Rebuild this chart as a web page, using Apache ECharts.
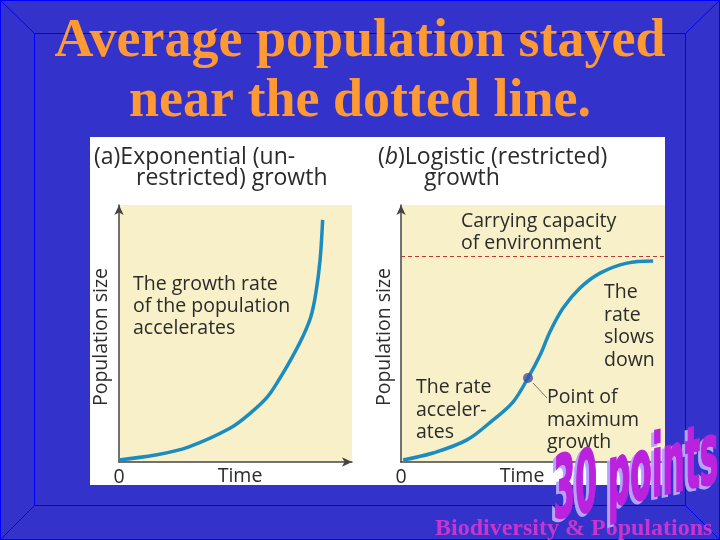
<!DOCTYPE html>
<html>
<head>
<meta charset="utf-8">
<script src="https://cdn.jsdelivr.net/npm/echarts@6/dist/echarts.min.js"></script>
<style>
    html, body { margin: 0; padding: 0; background: #3333cc; }
    #chart { width: 720px; height: 540px; }
</style>
</head>
<body>
<div id="chart"></div>
<script>
// (a) exponential growth
const timeA = [0, 15.5, 29.7, 47.8, 56.5, 63.7, 69.4, 74.4, 78.8, 82.3, 84.5, 86.3, 87.4];
const popA = [0.8, 2.7, 5.8, 13.2, 19.1, 25.3, 33.1, 40.9, 48.6, 56.4, 65.8, 78.6, 94.2];
// (b) logistic growth
const timeB = [0.8, 12.1, 25, 34.8, 42.4, 48.1, 52.7, 56.4, 61.4, 67.8, 75.4, 85.6, 95.5];
const popB = [0.8, 3.5, 8.6, 16.3, 23.3, 32.7, 41.6, 50.6, 59.9, 67.7, 73.5, 77.4, 78.2];
const carryingCapacity = [80.2];
const maxGrowthPoint = [48.1, 32.7];

const SANS = '"Open Sans", "Noto Sans", sans-serif';
const SERIF = '"Liberation Serif", "DejaVu Serif", serif';
const HEAVY = '"DejaVu Sans Condensed", "DejaVu Sans", sans-serif';
const INK = '#2b2b2b';
const CURVE = '#1a8cc0';
const BODY = 19.5;
const HEAD = 23;

function pairs(xs, ys) {
    return xs.map((x, i) => [x, ys[i]]);
}

// plain text helper, y = vertical centre
function txt(text, x, y, size, extra) {
    return {
        type: 'text', x: x, y: y, z: 50,
        style: Object.assign({
            text: text, fontSize: size, fontFamily: SANS, fill: INK,
            align: 'left', verticalAlign: 'middle'
        }, extra || {})
    };
}

function line(x1, y1, x2, y2, color, w) {
    return { type: 'line', z: 1, shape: { x1: x1, y1: y1, x2: x2, y2: y2 }, style: { stroke: color, lineWidth: w || 1 } };
}

function badge(x, y, color, z) {
    return {
        type: 'text', x: x, y: y, z: z, skewY: 0.22, scaleX: 0.87, scaleY: 2.15,
        style: {
            text: '30 points', fontSize: 40, fontWeight: 'bold', fontFamily: HEAVY,
            align: 'center', verticalAlign: 'middle', fill: color,
            stroke: color, lineWidth: 1
        }
    };
}

function axisX(idx, arrow) {
    return {
        type: 'value', gridIndex: idx, min: 0, max: 100, interval: 100,
        splitLine: { show: false }, axisTick: { show: false },
        axisLine: { lineStyle: { color: '#444', width: 1.5 }, symbol: arrow ? ['none', 'arrow'] : 'none', symbolSize: [7, 10] },
        axisLabel: { formatter: (v) => v === 0 ? '0' : '', color: INK, fontSize: BODY, fontFamily: SANS, margin: 5, showMaxLabel: false }
    };
}

function axisY(idx) {
    return {
        type: 'value', gridIndex: idx, min: 0, max: 100,
        splitLine: { show: false }, axisTick: { show: false }, axisLabel: { show: false },
        axisLine: { show: true, lineStyle: { color: '#444', width: 1.5 }, symbol: ['none', 'arrow'], symbolSize: [7, 10] }
    };
}

let chart = echarts.init(document.getElementById('chart'));
let option = {
    backgroundColor: '#3333cc',
    animation: false,
    grid: [
        { left: 119, top: 205, width: 233, height: 257, show: true, backgroundColor: '#f8f0c9', borderWidth: 0 },
        { left: 401, top: 205, width: 264, height: 257, show: true, backgroundColor: '#f8f0c9', borderWidth: 0 }
    ],
    xAxis: [axisX(0, true), axisX(1, false)],
    yAxis: [axisY(0), axisY(1)],
    series: [
        {
            type: 'line', xAxisIndex: 0, yAxisIndex: 0, smooth: 0.35, showSymbol: false,
            lineStyle: { color: CURVE, width: 3.5 },
            data: pairs(timeA, popA)
        },
        {
            type: 'line', xAxisIndex: 1, yAxisIndex: 1, smooth: 0.35, showSymbol: false,
            lineStyle: { color: CURVE, width: 3.5 },
            data: pairs(timeB, popB),
            markLine: {
                silent: true, symbol: 'none', label: { show: false },
                lineStyle: { color: '#c0392b', type: [4, 3], width: 1 },
                data: carryingCapacity.map((v) => ({ yAxis: v }))
            }
        },
        {
            type: 'scatter', xAxisIndex: 1, yAxisIndex: 1, symbolSize: 10, z: 5,
            itemStyle: { color: '#3f51a3' },
            data: [maxGrowthPoint]
        }
    ],
    graphic: [
        // slide frame
        { type: 'rect', z: -10, shape: { x: 0.5, y: 0.5, width: 719, height: 539 }, style: { fill: 'none', stroke: '#0000ff' } },
        { type: 'rect', z: -10, shape: { x: 34.5, y: 33.5, width: 651, height: 472 }, style: { fill: 'none', stroke: '#0000ff' } },
        line(0, 0, 34.5, 33.5, '#0000ff'),
        line(720, 0, 685.5, 33.5, '#0000ff'),
        line(0, 540, 34.5, 505.5, '#0000ff'),
        line(720, 540, 685.5, 505.5, '#0000ff'),
        // white figure panel
        { type: 'rect', z: -5, shape: { x: 90, y: 137, width: 575, height: 348 }, style: { fill: '#ffffff' } },

        // title
        txt('Average population stayed', 360, 42, 54, { fontFamily: SERIF, fontWeight: 'bold', fill: '#ff9933', align: 'center' }),
        txt('near the dotted line.', 360, 102, 54, { fontFamily: SERIF, fontWeight: 'bold', fill: '#ff9933', align: 'center' }),

        // panel (a)
        txt('(a)Exponential (un-', 94, 157, HEAD),
        txt('restricted) growth', 136, 178, HEAD),
        txt('The growth rate', 133, 284, BODY),
        txt('of the population', 133, 306, BODY),
        txt('accelerates', 133, 328, BODY),
        txt('Population size', 101, 337, BODY, { align: 'center' }),
        txt('Time', 240, 476, BODY, { align: 'center' }),

        // panel (b)
        {
            type: 'text', x: 378, y: 157, z: 50,
            style: {
                text: '({i|b})Logistic (restricted)', fontSize: HEAD, fontFamily: SANS, fill: INK, verticalAlign: 'middle',
                rich: { i: { fontStyle: 'italic', fontSize: HEAD, fontFamily: SANS, fill: INK } }
            }
        },
        txt('growth', 424, 178, HEAD),
        txt('Carrying capacity', 461, 221, BODY),
        txt('of environment', 461, 243, BODY),
        txt('The', 604, 292, BODY),
        txt('rate', 604, 315, BODY),
        txt('slows', 604, 337, BODY),
        txt('down', 604, 360, BODY),
        txt('The rate', 416, 387, BODY),
        txt('acceler-', 416, 410, BODY),
        txt('ates', 416, 432, BODY),
        txt('Point of', 547, 397, BODY),
        txt('maximum', 547, 420, BODY),
        txt('growth', 547, 442, BODY),
        txt('Population size', 384, 337, BODY, { align: 'center' }),
        txt('Time', 522, 476, BODY, { align: 'center' }),
        line(533, 383, 547, 398, '#777', 1),

        // footer
        txt('Biodiversity & Populations', 435, 529, 24, { fontFamily: SERIF, fontWeight: 'bold', fill: '#cc33cc' }),

        // "30 points" badge: lavender shadow, then purple face
        badge(633, 481, '#b4a4ff', 80),
        badge(636, 478, '#bb22dd', 81)
    ]
};
// rotate the y-axis names
option.graphic.forEach((g) => {
    if (g.style && g.style.text === 'Population size') {
        g.rotation = Math.PI / 2;
    }
});
chart.setOption(option);
</script>
</body>
</html>
